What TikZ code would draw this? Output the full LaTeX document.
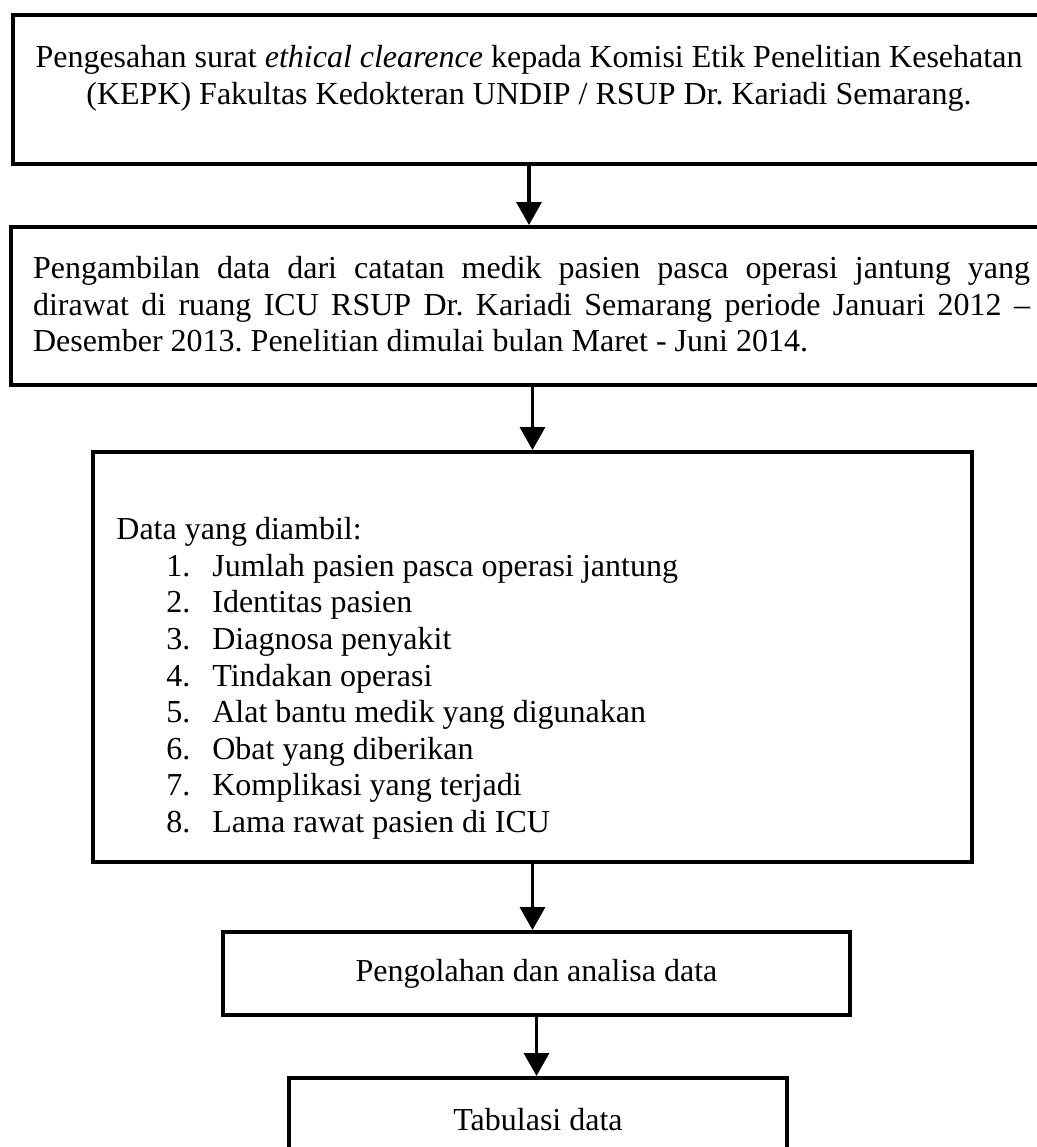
\documentclass[tikz,border=0pt]{standalone}
\usepackage{fontspec}
\setmainfont{Liberation Serif}
\usepackage{tikz}
\usetikzlibrary{arrows.meta,positioning,calc}
\tikzstyle{Kotak}=[shape=rectangle,draw=black,line width=2pt,inner sep=0pt]
\tikzstyle{Teks}=[inner sep=0pt,font={\fontsize{16pt}{18.3pt}\selectfont}]
\tikzstyle{panah}=[-{Triangle[width=12.5pt,length=11.5pt]},line width=1.75pt]
\newcommand{\butir}[1]{\hspace*{25pt}\makebox[23pt][l]{#1.}}
\frenchspacing

\begin{document}
\begin{tikzpicture}[x=0.5pt,y=-0.5pt]
\useasboundingbox (0,0) rectangle (1037,1147);
\clip (0,0) rectangle (1037,1147);

\node[Kotak,minimum width=516pt,minimum height=74.5pt] (sah) at (529,89.5){};
\node[Teks,align=center,anchor=north] (sahteks) at (529,45)
 {Pengesahan surat \textit{ethical clearence} kepada Komisi Etik Penelitian Kesehatan\\
 (KEPK) Fakultas Kedokteran UNDIP / RSUP Dr. Kariadi Semarang.};

\node[Kotak,minimum width=517pt,minimum height=79pt] (ambil) at (528,306){};
\node[Teks,text width=498.5pt,align=justify,anchor=north] (ambilteks) at (531.5,256)
 {Pengambilan data dari catatan medik pasien pasca operasi jantung yang\linebreak
 dirawat di ruang ICU RSUP Dr. Kariadi Semarang periode Januari 2012 --\linebreak
 Desember 2013. Penelitian dimulai bulan Maret - Juni 2014.};

\node[Kotak,minimum width=439.5pt,minimum height=205pt] (data) at (532.5,657){};
\node[Teks,align=left,anchor=north west] (datateks) at (116,517)
 {Data yang diambil:\\
 \butir{1}Jumlah pasien pasca operasi jantung\\
 \butir{2}Identitas pasien\\
 \butir{3}Diagnosa penyakit\\
 \butir{4}Tindakan operasi\\
 \butir{5}Alat bantu medik yang digunakan\\
 \butir{6}Obat yang diberikan\\
 \butir{7}Komplikasi yang terjadi\\
 \butir{8}Lama rawat pasien di ICU};

\node[Kotak,Teks,minimum width=313.5pt,minimum height=41.5pt] (olah) at (536.5,973.5){Pengolahan dan analisa data};

\node[Kotak,Teks,minimum width=249pt,minimum height=41.5pt] (tabulasi) at (538,1119.5){Tabulasi data};

 \path
(sah.south) edge [panah] (sah.south |- ambil.north)
(data.north |- ambil.south) edge [panah] (data.north)
(data.south) edge [panah] (data.south |- olah.north)
(olah.south) edge [panah] (olah.south |- tabulasi.north);

\end{tikzpicture}
\end{document}
